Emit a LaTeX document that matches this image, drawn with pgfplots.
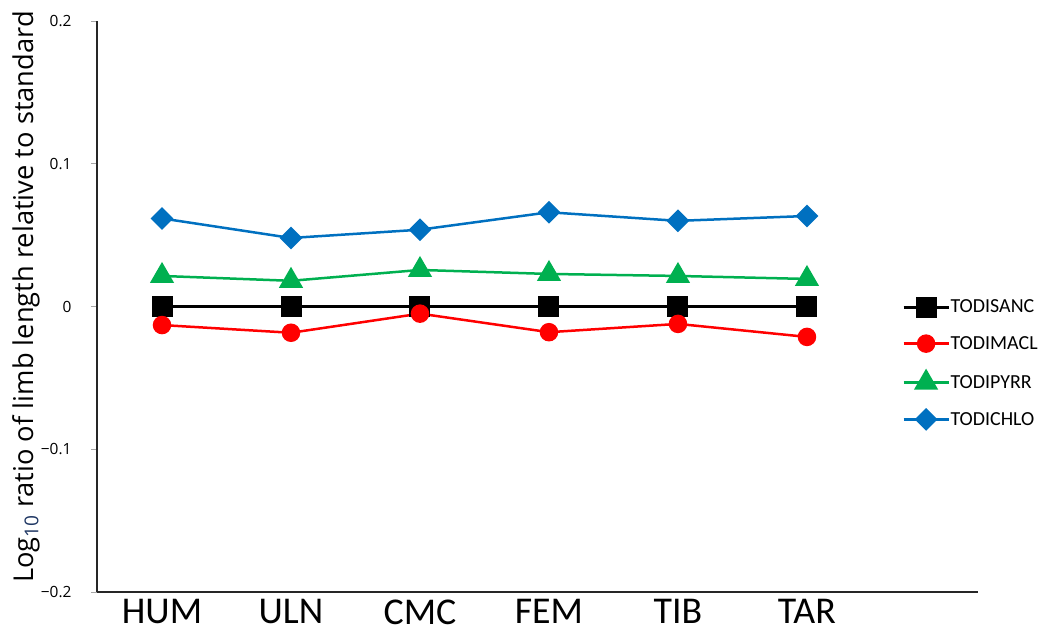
\documentclass[border=0pt]{standalone}
\usepackage{pgfplots}
\pgfplotsset{compat=1.18}
\usepackage{fontspec}
\setmainfont{Carlito}
\newfontfamily\osans{Open Sans}
\definecolor{cblue}{RGB}{0,112,192}
\definecolor{cgreen}{RGB}{0,176,80}
\definecolor{cred}{RGB}{255,0,0}
\definecolor{subblue}{RGB}{32,56,100}
\begin{document}
\begin{tikzpicture}
\path[use as bounding box] (0,0) rectangle (1047bp,628bp);
\begin{axis}[
  at={(97bp,36bp)}, anchor=south west,
  scale only axis, width=881bp, height=571bp,
  xmin=-0.504, xmax=6.326, ymin=-0.2, ymax=0.2,
  axis lines=left, axis line style={-, line width=2.5bp, black!85},
  xtick={0,1,2,3,4,5}, xticklabels={HUM,ULN,CMC,FEM,TIB,TAR},
  x tick style={draw=none},
  xticklabel style={font=\fontsize{38}{38}\selectfont, inner sep=0pt, anchor=north, yshift=-1.5bp},
  ytick={-0.2,-0.1,0,0.1,0.2},
  yticklabels={−0.2,−0.1,0,0.1,0.2},
  y tick style={gray!70, line width=0.8bp},
  tick align=outside, major tick length=6bp,
  yticklabel style={font=\osans\fontsize{15.5}{15.5}\selectfont, xshift=-16bp},
  ylabel={Log\textsubscript{\color{subblue}10} ratio of limb length relative to standard},
  ylabel style={at={(axis description cs:-0.0806,0.5166)}, anchor=center, font=\osans\fontsize{27.4}{27.4}\selectfont},
  legend style={at={(axis description cs:0.9136,0.400)}, anchor=west, draw=none, fill=none,
    font=\fontsize{20}{20}\selectfont, row sep=19.5bp, inner sep=0pt,
    nodes={inner sep=0.5bp}},
  legend cell align=left,
  legend image code/.code={\draw[mark repeat=2,mark phase=2] plot coordinates {(0bp,0bp)(22.5bp,0bp)(45bp,0bp)};},
  clip=false,
]
\addplot[black, line width=3bp, mark=square*, mark size=9bp, mark options={solid}] coordinates {
(0,0) (1,0) (2,0) (3,0) (4,0) (5,0)};
\addlegendentry{TODISANC}
\addplot[cred, line width=2.5bp, mark=*, mark size=8bp] coordinates {
(0,-0.0130) (1,-0.0184) (2,-0.0050) (3,-0.0180) (4,-0.0122) (5,-0.0213)};
\addlegendentry{TODIMACL}
\addplot[cgreen, line width=2.5bp, mark=triangle*, mark size=11.5bp] coordinates {
(0,0.0214) (1,0.0180) (2,0.0256) (3,0.0228) (4,0.0214) (5,0.0193)};
\addlegendentry{TODIPYRR}
\addplot[cblue, line width=2.5bp, mark=square*, mark size=6.8bp, mark options={rotate=45}] coordinates {
(0,0.0617) (1,0.0480) (2,0.0538) (3,0.0660) (4,0.0600) (5,0.0634)};
\addlegendentry{TODICHLO}
\end{axis}
\end{tikzpicture}
\end{document}
